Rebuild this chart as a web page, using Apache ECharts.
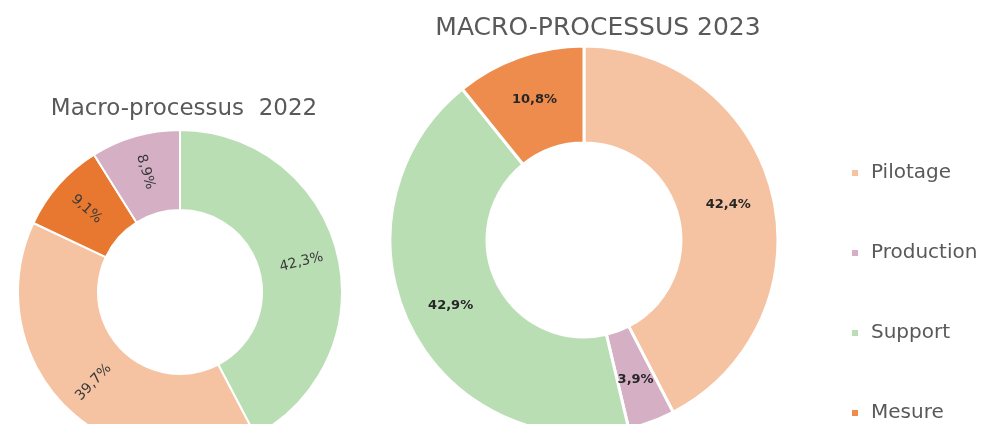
<!DOCTYPE html>
<html>
<head>
<meta charset="utf-8">
<script src="https://cdn.jsdelivr.net/npm/echarts@6/dist/echarts.min.js"></script>
<style>
  html, body { margin: 0; padding: 0; background: #fff; }
  #chart { width: 1002px; height: 424px; }
</style>
</head>
<body>
<div id="chart"></div>
<script>
// legend order
var categories = ['Pilotage', 'Production', 'Support', 'Mesure'];

// slices in clockwise order from 12 o'clock
var names2022 = ['Support', 'Pilotage', 'Mesure', 'Production'];
var values2022 = [42.3, 39.7, 9.1, 8.9];

var names2023 = ['Pilotage', 'Production', 'Support', 'Mesure'];
var values2023 = [42.4, 3.9, 42.9, 10.8];

var colors2022 = { Pilotage: '#F5C3A1', Production: '#D5B0C5', Support: '#BADEB4', Mesure: '#E8782F' };
var colors2023 = { Pilotage: '#F5C3A1', Production: '#D5B0C5', Support: '#BADEB4', Mesure: '#EE8C4E' };

function pct(p) {
    return p.value.toFixed(1).replace('.', ',') + '%';
}

function slices(names, values, colors) {
    return names.map(function(n, i) {
        return { name: n, value: values[i], itemStyle: { color: colors[n] } };
    });
}

var chart = echarts.init(document.getElementById('chart'));

var font = '"DejaVu Sans", sans-serif';

chart.setOption({
    animation: false,
    title: [{
        text: 'Macro-processus  2022',
        left: 179,
        top: 93,
        textAlign: 'center',
        textStyle: { fontFamily: font, fontSize: 23, fontWeight: 'normal', color: '#595959' }
    }, {
        text: 'MACRO-PROCESSUS 2023',
        left: 593,
        top: 11,
        textAlign: 'center',
        textStyle: { fontFamily: font, fontSize: 25, fontWeight: 'normal', color: '#595959' }
    }],
    legend: {
        orient: 'vertical',
        left: 850,
        top: 163,
        padding: 0,
        itemWidth: 8,
        itemHeight: 8,
        itemGap: 60,
        icon: 'rect',
        data: categories.map(function(n) {
            return { name: n, itemStyle: { color: colors2023[n] } };
        }),
        textStyle: { fontFamily: font, fontSize: 20, color: '#595959', lineHeight: 20, padding: [0, 0, 0, 7] }
    },
    series: [{
        name: '2022',
        type: 'pie',
        center: [180, 292],
        radius: [82, 162],
        startAngle: 90,
        itemStyle: { borderColor: '#fff', borderWidth: 2 },
        label: {
            position: 'inside',
            rotate: 'radial',
            formatter: pct,
            fontFamily: font,
            fontSize: 14,
            color: '#3a3a3a'
        },
        labelLine: { show: false },
        data: slices(names2022, values2022, colors2022)
    }, {
        name: '2023',
        type: 'pie',
        center: [584, 240],
        radius: [97, 194],
        startAngle: 90,
        itemStyle: { borderColor: '#fff', borderWidth: 3 },
        label: {
            position: 'inside',
            formatter: pct,
            fontFamily: font,
            fontSize: 13,
            fontWeight: 'bold',
            color: '#262626'
        },
        labelLine: { show: false },
        data: slices(names2023, values2023, colors2023)
    }]
});
</script>
</body>
</html>
